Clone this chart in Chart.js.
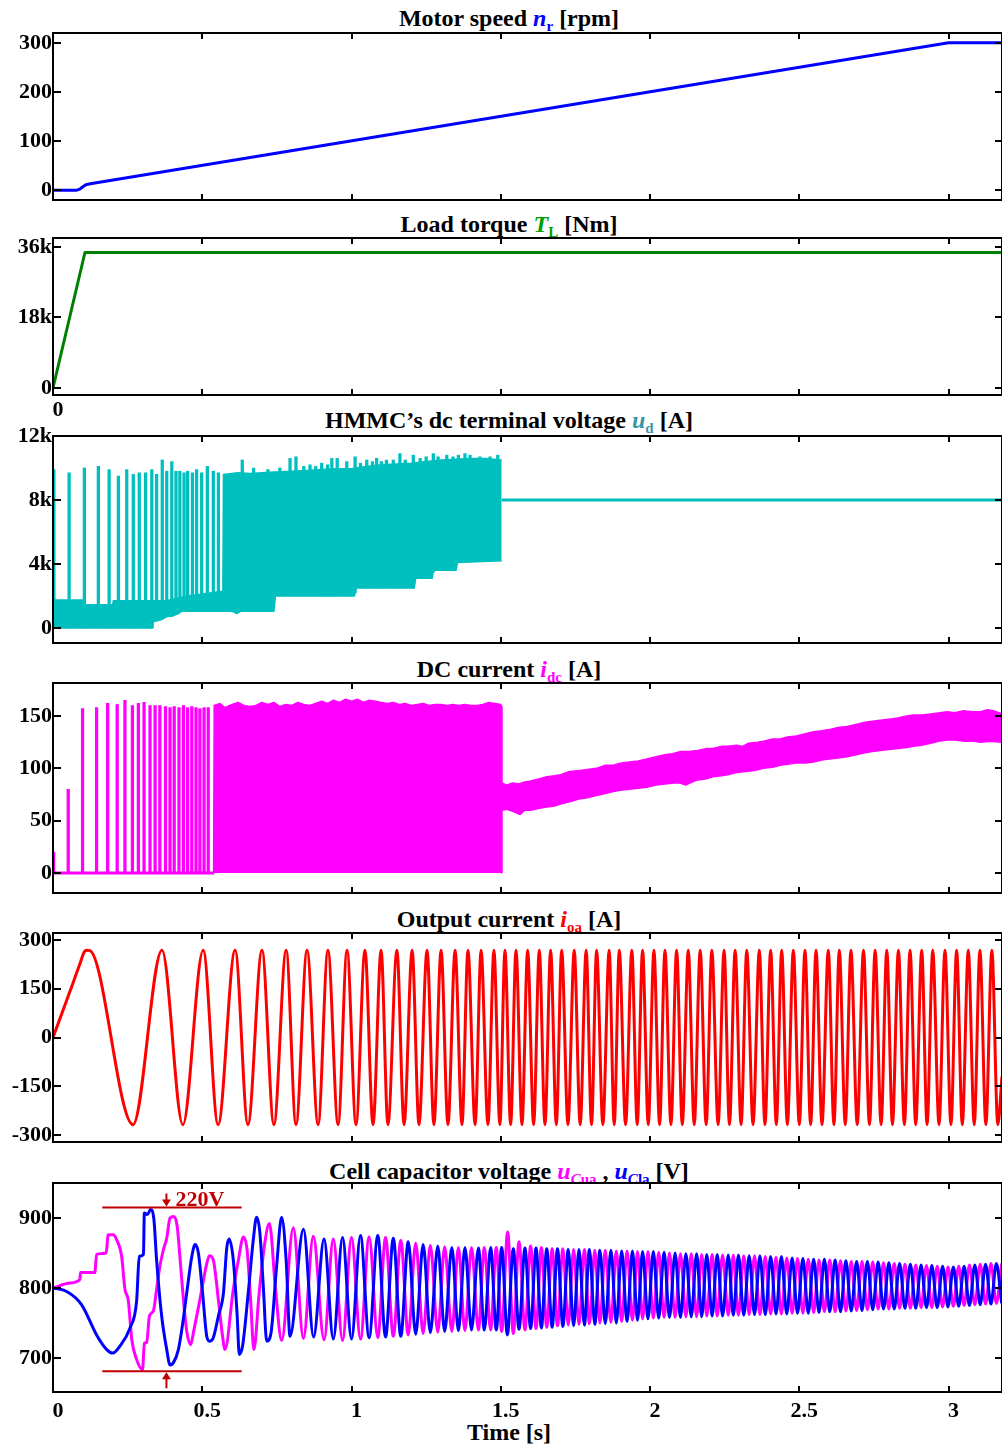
<!DOCTYPE html>
<html><head><meta charset="utf-8">
<script src="https://cdn.jsdelivr.net/npm/chart.js@4.4.1/dist/chart.umd.min.js"></script>
<style>
html,body{margin:0;padding:0;background:#fff;}
body{width:1002px;height:1448px;position:relative;overflow:hidden;font-family:"Liberation Serif","Times New Roman",serif;}
.t{position:absolute;left:0;width:1018px;text-align:center;font-weight:bold;font-size:24px;line-height:24px;white-space:nowrap;color:#000;}
.t i{font-style:italic;}
.s{font-size:15px;position:relative;top:5px;font-weight:bold;}
</style>
</head><body>
<div class="t" style="top:6px">Motor speed <i style="color:#0000ff">n</i><span class="s" style="color:#0000ff">r</span> [rpm]</div>
<div class="t" style="top:212px">Load torque <i style="color:#00a000">T</i><span class="s" style="color:#00a000">L</span> [Nm]</div>
<div class="t" style="top:408px">HMMC’s dc terminal voltage <i style="color:#3a96aa">u</i><span class="s" style="color:#3a96aa">d</span> [A]</div>
<div class="t" style="top:657px">DC current <i style="color:#ff00ff">i</i><span class="s" style="color:#ff00ff">dc</span> [A]</div>
<div class="t" style="top:907px">Output current <i style="color:#ff0000">i</i><span class="s" style="color:#ff0000">oa</span> [A]</div>
<div class="t" style="top:1159px">Cell capacitor voltage <i style="color:#ff00ff">u</i><span class="s" style="color:#ff00ff"><i>C</i>ua</span> , <i style="color:#0000ff">u</i><span class="s" style="color:#0000ff"><i>C</i>la</span> [V]</div>
<div class="t" style="top:1420px">Time [s]</div>
<script>
// ---------------- DATA ----------------
const xTickVals = [0, 0.5, 1, 1.5, 2, 2.5, 3];
const xTickLabels = ['0', '0.5', '1', '1.5', '2', '2.5', '3'];
const X_MAX = 3.179;

// Panel 1: motor speed [rpm]
const speedTicks = [0, 100, 200, 300];
const speedTickLabels = ['0', '100', '200', '300'];
const speedPts = [[0,0],[0.08,0],[0.09,2],[0.10,7],[0.11,11],[0.125,13],[3.0,300],[3.179,300]];

// Panel 2: load torque [Nm]
const torqueTicks = [0, 18000, 36000];
const torqueTickLabels = ['0', '18k', '36k'];
const torquePts = [[0,0],[0.107,34600],[3.179,34600]];

// Panel 3: dc terminal voltage
const udTicks = [0, 4000, 8000, 12000];
const udTickLabels = ['0', '4k', '8k', '12k'];
const udLowPts = [[0,0],[0.334,0],[0.336,400],[0.36,500],[0.38,700],[0.40,750],[0.42,900],[0.43,1050],[0.60,1050],[0.615,900],[0.63,1050],[0.74,1050],[0.745,2000],[1.01,2000],[1.015,2500],[1.21,2500],[1.215,3100],[1.27,3100],[1.275,3600],[1.35,3600],[1.355,4100],[1.503,4200]];
const udHighPts = [[0,1750],[0.10,1750],[0.102,1450],[0.20,1450],[0.202,1700],[0.38,1700],[0.45,2000],[0.569,2300],[0.571,9600],[0.62,9700],[0.66,9650],[0.70,9700],[0.74,9750],[0.80,9800],[0.85,9850],[0.90,9900],[0.95,9950],[1.00,9950],[1.05,10100],[1.10,10200],[1.15,10250],[1.20,10300],[1.25,10400],[1.30,10500],[1.35,10550],[1.40,10600],[1.45,10600],[1.503,10500]];
const udSpikeT = [0.003,0.054,0.105,0.152,0.188,0.219,0.247,0.269,0.289,0.31,0.331,0.347,0.366,0.381,0.398,0.412,0.425,0.439,0.451,0.467,0.481,0.498,0.517,0.537,0.554,0.634,0.672,0.72,0.76,0.794,0.814,0.84,0.861,0.88,0.90,0.92,0.934,0.952,0.984,1.012,1.03,1.051,1.07,1.084,1.1,1.117,1.14,1.162,1.18,1.207,1.23,1.25,1.274,1.29,1.319,1.34,1.358,1.38,1.397,1.43,1.464,1.49];
const udSpikeV = [9900,9700,10000,10100,9900,9500,9900,9600,9700,9700,9900,9600,10500,9800,10400,9800,9800,9700,9800,9700,9900,9700,10100,9800,9700,10500,10000,9900,10000,10600,10700,10100,10200,10100,10300,10200,10600,10600,10400,10700,10300,10500,10400,10600,10400,10500,10500,10900,10500,10800,10600,10700,10900,10700,10800,10700,10800,10900,10800,10700,10700,10800];
const udFlatPts = [[1.503,8000],[3.179,8000]];

// Panel 4: DC current [A]
const idcTicks = [0, 50, 100, 150];
const idcTickLabels = ['0', '50', '100', '150'];
const idcBasePts = [[0,0],[0.54,0]];
const idcSpikeT = [0.002,0.051,0.099,0.146,0.183,0.215,0.241,0.266,0.286,0.305,0.325,0.342,0.358,0.377,0.392,0.406,0.422,0.437,0.451,0.465,0.479,0.492,0.506,0.52];
const idcSpikeV = [20,80,157,158,162,161,165,160,162,163,160,160,160,159,158,159,158,160,158,159,158,157,158,158];
const idcDenseTopPts = [[0.538,0],[0.54,160],[0.56,162],[0.575,158],[0.6,161],[0.62,163],[0.64,160],[0.66,159],[0.68,160],[0.7,163],[0.72,161],[0.74,163],[0.76,159],[0.78,161],[0.8,160],[0.82,163],[0.84,161],[0.86,160],[0.88,162],[0.9,164],[0.92,162],[0.94,165],[0.96,163],[0.98,166],[1.0,164],[1.02,166],[1.04,163],[1.06,165],[1.08,164],[1.1,163],[1.12,162],[1.14,163],[1.16,161],[1.18,162],[1.2,160],[1.22,161],[1.24,162],[1.26,160],[1.28,161],[1.3,161],[1.32,160],[1.34,161],[1.36,160],[1.38,161],[1.4,160],[1.42,160],[1.44,161],[1.46,163],[1.48,162],[1.5,161],[1.503,159],[1.504,0]];
const idcPostHighPts = [[1.504,86],[1.52,84],[1.54,86],[1.56,85],[1.58,87],[1.6,88],[1.63,90],[1.654,92],[1.68,93],[1.7,94],[1.73,97],[1.765,98],[1.79,99],[1.82,100],[1.85,103],[1.877,103],[1.9,105],[1.93,106],[1.96,107],[1.989,109],[2.02,111],[2.05,113],[2.075,114],[2.1,116],[2.13,116],[2.16,117],[2.19,119],[2.21,119],[2.24,121],[2.26,121],[2.29,122],[2.31,121],[2.33,124],[2.36,125],[2.38,126],[2.41,128],[2.436,128],[2.46,130],[2.49,131],[2.52,133],[2.548,135],[2.575,136],[2.6,137],[2.63,139],[2.66,140],[2.69,142],[2.72,144],[2.745,145],[2.771,146],[2.8,147],[2.83,148],[2.86,150],[2.883,151],[2.91,151],[2.94,152],[2.97,153],[2.995,154],[3.02,153],[3.05,155],[3.08,154],[3.107,154],[3.13,156],[3.15,155],[3.179,152]];
const idcPostLowPts = [[1.504,60],[1.52,61],[1.54,59],[1.565,56],[1.58,60],[1.6,60],[1.63,62],[1.654,63],[1.68,64],[1.7,66],[1.73,68],[1.765,71],[1.79,72],[1.82,74],[1.85,76],[1.877,78],[1.9,79],[1.93,80],[1.96,81],[1.989,82],[2.02,84],[2.05,85],[2.08,86],[2.1,86],[2.12,84],[2.14,87],[2.16,89],[2.19,90],[2.21,92],[2.24,93],[2.26,94],[2.29,96],[2.32,97],[2.35,98],[2.38,100],[2.41,101],[2.436,103],[2.46,104],[2.49,105],[2.52,105],[2.548,106],[2.575,108],[2.6,109],[2.63,110],[2.66,111],[2.69,113],[2.72,115],[2.745,116],[2.771,117],[2.8,118],[2.83,119],[2.86,120],[2.883,121],[2.91,122],[2.94,124],[2.97,126],[2.995,127],[3.02,127],[3.05,126],[3.08,126],[3.107,125],[3.14,126],[3.179,125]];

// Panel 5: output current [A]
const ioaTicks = [-300, -150, 0, 150, 300];
const ioaTickLabels = ['-300', '-150', '0', '150', '300'];
const ioaPts = [[0,0],[0.03,75],[0.06,150],[0.09,226],[0.107,266],[0.116,268],[0.124,267],
[0.268,-268],[0.365,268],[0.435,-268],[0.503,268],[0.553,-268],[0.610,268],[0.653,-268],[0.700,268],[0.740,-268],[0.781,268],[0.814,-268],[0.851,268],[0.888,-268],[0.921,268],[0.955,-268],[0.985,268],[1.015,-268],[1.045,268],[1.072,-268],[1.099,268],[1.122,-268],[1.152,268],[1.176,-268],[1.203,268],[1.226,-268],[1.253,268],[1.276,-268],[1.300,268],[1.323,-268],[1.347,268],[1.370,-268],[1.390,268],[1.414,-268],[1.434,268],[1.457,-268],[1.477,268],[1.497,-268],[1.514,268],[1.533,-268],[1.551,268],[1.571,-268],[1.590,268],[1.610,-268],[1.629,268],[1.648,-268],[1.667,268],[1.686,-268],[1.704,268],[1.725,-268],[1.746,268],[1.766,-268],[1.786,268],[1.804,-268],[1.821,268],[1.842,-268],[1.863,268],[1.880,-268],[1.897,268],[1.918,-268],[1.939,268],[1.957,-268],[1.975,268],[1.994,-268],[2.013,268],[2.032,-268],[2.050,268],[2.070,-268],[2.089,268],[2.108,-268],[2.128,268],[2.148,-268],[2.168,268],[2.188,-268],[2.207,268],[2.228,-268],[2.248,268],[2.266,-268],[2.285,268],[2.305,-268],[2.324,268],[2.345,-268],[2.366,268],[2.385,-268],[2.404,268],[2.423,-268],[2.441,268],[2.460,-268],[2.480,268],[2.500,-268],[2.519,268],[2.538,-268],[2.556,268],[2.576,-268],[2.597,268],[2.616,-268],[2.634,268],[2.654,-268],[2.673,268],[2.694,-268],[2.715,268],[2.735,-268],[2.754,268],[2.774,-268],[2.793,268],[2.812,-268],[2.832,268],[2.852,-268],[2.871,268],[2.890,-268],[2.910,268],[2.928,-268],[2.947,268],[2.968,-268],[2.988,268],[3.008,-268],[3.027,268],[3.046,-268],[3.066,268],[3.086,-268],[3.105,268],[3.125,-268],[3.145,268],[3.165,-268],[3.179,-120]];

// Panel 6: cell capacitor voltages [V]
const ucTicks = [700, 800, 900];
const ucTickLabels = ['700', '800', '900'];
const uCuaPts = [[0,800],[0.057,807],[0.09,812],[0.092,822],[0.14,822],[0.146,848],[0.178,850],[0.185,876],[0.202,876],[0.213,869],[0.23,845],[0.241,798],[0.252,783],[0.264,726],[0.28,698],[0.3,683],[0.306,721],[0.314,722],[0.323,760],[0.336,767],[0.347,798],[0.358,831],[0.37,855],[0.381,871],[0.392,900],[0.405,902],[0.416,888],[0.425,845],[0.437,783],[0.448,738],[0.461,719],[0.472,740],[0.492,783],[0.513,831],[0.524,846],[0.537,840],[0.554,783],[0.568,731],[0.576,712],[0.604,798],[0.621,840],[0.638,873],[0.65,855],[0.662,783],[0.673,712],[0.69,790],[0.708,860],[0.725,892],[0.745,800],[0.766,725],
[0.805,886],[0.839,728],[0.872,874],[0.908,726],[0.939,870],[0.97,725],[1.0,872],[1.03,727],[1.059,873],[1.088,729],[1.114,872],[1.14,731],[1.165,868],[1.19,733],[1.215,864],[1.24,735],[1.264,861],[1.289,737],[1.312,859],[1.336,738],[1.358,858],[1.38,739],[1.402,858],[1.425,740],[1.445,858],[1.466,740],[1.485,858],[1.503,738],[1.523,880],[1.542,735],[1.561,866],[1.581,740],[1.6,860],[1.618,742],[1.636,858],[1.654,744],[1.672,856],[1.69,746],[1.708,856],[1.726,747],[1.744,855],[1.762,748],[1.78,855],[1.797,749],[1.815,854],[1.832,750],[1.85,854],[1.869,751],[1.887,853],[1.905,752],[1.923,853],[1.941,754],[1.958,852],[1.975,756],[1.993,852],[2.011,757],[2.029,851],[2.047,758],[2.065,850],[2.084,758],[2.102,849],[2.12,759],[2.138,849],[2.156,759],[2.173,848],[2.19,760],[2.208,848],[2.225,760],[2.243,847],[2.262,761],[2.279,847],[2.296,761],[2.314,846],[2.332,762],[2.35,846],[2.368,762],[2.386,845],[2.404,763],[2.422,844],[2.44,763],[2.458,843],[2.476,764],[2.494,842],[2.512,764],[2.53,841],[2.548,765],[2.566,840],[2.584,766],[2.602,840],[2.62,766],[2.638,839],[2.656,767],[2.674,838],[2.692,768],[2.71,838],[2.728,769],[2.746,837],[2.764,770],[2.782,836],[2.8,770],[2.818,835],[2.836,771],[2.854,834],[2.872,771],[2.89,833],[2.908,772],[2.926,832],[2.944,772],[2.962,831],[2.98,773],[2.998,830],[3.016,774],[3.034,831],[3.052,775],[3.07,833],[3.088,776],[3.106,834],[3.124,777],[3.142,835],[3.16,778],[3.178,835]];
const uClaPts = [[0,800],[0.046,795],[0.096,776],[0.146,733],[0.18,712],[0.2,707],[0.224,717],[0.258,743],[0.28,781],[0.289,845],[0.303,848],[0.306,907],[0.316,905],[0.327,912],[0.338,898],[0.347,840],[0.364,760],[0.381,712],[0.392,690],[0.403,693],[0.42,712],[0.434,748],[0.448,793],[0.465,845],[0.476,862],[0.487,850],[0.501,793],[0.515,731],[0.524,724],[0.537,729],[0.554,760],[0.571,793],[0.582,857],[0.59,870],[0.604,840],[0.617,760],[0.624,705],[0.635,717],[0.654,793],[0.671,869],[0.682,901],[0.693,879],[0.705,798],[0.716,724],[0.73,735],[0.749,831],[0.766,901],[0.781,840],[0.794,731],
[0.839,884],[0.873,730],[0.908,870],[0.939,727],[0.97,872],[1.0,727],[1.03,875],[1.059,729],[1.088,875],[1.114,730],[1.14,871],[1.165,731],[1.19,866],[1.215,734],[1.24,862],[1.264,736],[1.289,860],[1.312,738],[1.336,858],[1.358,739],[1.38,858],[1.402,740],[1.425,857],[1.445,740],[1.466,858],[1.485,740],[1.503,858],[1.522,733],[1.542,856],[1.561,741],[1.581,857],[1.6,742],[1.618,857],[1.636,743],[1.654,856],[1.672,744],[1.69,856],[1.708,745],[1.726,855],[1.744,746],[1.762,855],[1.78,747],[1.797,855],[1.815,748],[1.832,854],[1.85,749],[1.869,854],[1.887,750],[1.905,853],[1.923,752],[1.941,853],[1.958,754],[1.975,852],[1.993,756],[2.011,852],[2.029,757],[2.047,851],[2.065,758],[2.084,850],[2.102,758],[2.12,849],[2.138,759],[2.156,849],[2.173,759],[2.19,848],[2.208,760],[2.225,848],[2.243,760],[2.262,847],[2.279,761],[2.296,847],[2.314,761],[2.332,846],[2.35,762],[2.368,846],[2.386,762],[2.404,845],[2.422,763],[2.44,845],[2.458,763],[2.476,843],[2.494,764],[2.512,842],[2.53,764],[2.548,841],[2.566,765],[2.584,841],[2.602,766],[2.62,840],[2.638,766],[2.656,839],[2.674,767],[2.692,838],[2.71,768],[2.728,838],[2.746,769],[2.764,837],[2.782,770],[2.8,836],[2.818,770],[2.836,835],[2.854,771],[2.872,834],[2.89,771],[2.908,833],[2.926,772],[2.944,832],[2.962,772],[2.98,831],[2.998,773],[3.016,830],[3.034,774],[3.052,831],[3.07,775],[3.088,833],[3.106,776],[3.124,834],[3.142,777],[3.16,835],[3.178,778]];
const annotLevels = [915, 681];
const annotSpan = [0.165, 0.632];
const annotArrowT = 0.38;
const annotLabel = '220V';

// ---------------- RENDERING ----------------
const FONT_FAMILY = '"Liberation Serif", "Times New Roman", serif';
const TICK_FONT = {family: FONT_FAMILY, size: 22, weight: 'bold'};
const toXY = pts => pts.map(p => ({x: p[0], y: p[1]}));
function lerpAt(pts, t) {
  for (let i = 1; i < pts.length; i++) {
    if (t <= pts[i][0]) {
      const a = pts[i-1], b = pts[i];
      const f = b[0] === a[0] ? 0 : (t - a[0]) / (b[0] - a[0]);
      return a[1] + f * (b[1] - a[1]);
    }
  }
  return pts[pts.length-1][1];
}

const framePlugin = {
  id: 'frame',
  afterDraw(chart) {
    const {ctx, chartArea: a, scales: {x, y}} = chart;
    ctx.save();
    ctx.strokeStyle = '#000';
    ctx.lineWidth = 2;
    ctx.lineCap = 'butt';
    ctx.beginPath();
    ctx.moveTo(a.left, a.top); ctx.lineTo(a.right, a.top);
    ctx.moveTo(a.left, a.bottom); ctx.lineTo(a.right, a.bottom);
    ctx.moveTo(a.left, a.top - 1); ctx.lineTo(a.left, a.bottom + 1);
    ctx.moveTo(a.right, a.top - 1); ctx.lineTo(a.right, a.bottom + 1);
    x.ticks.forEach(tk => {
      const px = Math.round(x.getPixelForValue(tk.value));
      ctx.moveTo(px, a.top); ctx.lineTo(px, a.top + 6);
      ctx.moveTo(px, a.bottom); ctx.lineTo(px, a.bottom - 6);
    });
    y.ticks.forEach(tk => {
      const py = Math.round(y.getPixelForValue(tk.value));
      ctx.moveTo(a.left, py); ctx.lineTo(a.left + 8, py);
      ctx.moveTo(a.right, py); ctx.lineTo(a.right - 7, py);
    });
    ctx.stroke();
    ctx.restore();
  }
};

const annotPlugin = {
  id: 'annot',
  afterDatasetsDraw(chart) {
    const {ctx, scales: {x, y}} = chart;
    const col = '#c00000';
    ctx.save();
    ctx.strokeStyle = col; ctx.fillStyle = col; ctx.lineWidth = 2;
    const x0 = x.getPixelForValue(annotSpan[0]), x1 = x.getPixelForValue(annotSpan[1]);
    const yHi = y.getPixelForValue(annotLevels[0]), yLo = y.getPixelForValue(annotLevels[1]);
    ctx.beginPath();
    ctx.moveTo(x0, yHi); ctx.lineTo(x1, yHi);
    ctx.moveTo(x0, yLo); ctx.lineTo(x1, yLo);
    const ax = x.getPixelForValue(annotArrowT);
    ctx.moveTo(ax, yHi - 14); ctx.lineTo(ax, yHi - 5);
    ctx.moveTo(ax, yLo + 17); ctx.lineTo(ax, yLo + 5);
    ctx.stroke();
    ctx.beginPath();
    ctx.moveTo(ax - 4.5, yHi - 8); ctx.lineTo(ax + 4.5, yHi - 8); ctx.lineTo(ax, yHi - 1); ctx.closePath();
    ctx.moveTo(ax - 4.5, yLo + 8); ctx.lineTo(ax + 4.5, yLo + 8); ctx.lineTo(ax, yLo + 1); ctx.closePath();
    ctx.fill();
    ctx.font = 'bold 22px ' + FONT_FAMILY;
    ctx.textBaseline = 'alphabetic';
    ctx.textAlign = 'left';
    ctx.fillText(annotLabel, ax + 9, yHi - 1);
    ctx.restore();
  }
};

function panel(cfg) {
  const PT = 16, PB = 16;
  const xH = cfg.xAxisH || 0;
  const h = cfg.bottom - cfg.top + PT + PB + xH;
  const c = document.createElement('canvas');
  c.width = 1002; c.height = h;
  c.style.cssText = 'position:absolute;left:0;top:' + (cfg.top - PT) + 'px;width:1002px;height:' + h + 'px;';
  document.body.appendChild(c);
  return new Chart(c, {
    type: 'line',
    data: {datasets: cfg.datasets},
    plugins: [framePlugin].concat(cfg.plugins || []),
    options: {
      responsive: false, animation: false, events: [], devicePixelRatio: 1,
      layout: {padding: {top: PT, bottom: PB, left: 0, right: 0}},
      elements: {point: {radius: 0, hoverRadius: 0}, line: {borderCapStyle: 'butt', borderJoinStyle: 'round'}},
      plugins: {legend: {display: false}, tooltip: {enabled: false}},
      scales: {
        x: {
          type: 'linear', min: 0, max: X_MAX, offset: false, bounds: 'data',
          grid: {display: false, drawTicks: false}, border: {display: false},
          afterBuildTicks: s => { s.ticks = xTickVals.map(v => ({value: v})); },
          ticks: {display: !!cfg.xLab, autoSkip: false, maxRotation: 0, padding: cfg.xPad || 6, labelOffset: 5, color: '#000', font: TICK_FONT,
                  callback: (v, i) => cfg.xLab ? cfg.xLab[i] : ''},
          afterFit: s => { s.height = xH; }
        },
        y: {
          type: 'linear', min: cfg.ymin, max: cfg.ymax, bounds: 'data',
          grid: {display: false, drawTicks: false}, border: {display: false},
          afterBuildTicks: s => { s.ticks = cfg.yt.map(v => ({value: v})); },
          ticks: {autoSkip: false, padding: 1, color: '#000', font: TICK_FONT, callback: (v, i) => cfg.yl[i]},
          afterFit: s => { s.width = 53; }
        }
      }
    }
  });
}

const line = (pts, color, w, extra) => Object.assign({type: 'line', data: toXY(pts), borderColor: color, borderWidth: w, pointRadius: 0, fill: false, tension: 0}, extra || {});
const spikes = (ts, vs, lowPts, color) => ({
  type: 'bar',
  data: ts.map((t, i) => ({x: t, y: [lowPts ? lerpAt(lowPts, t) : 0, vs[i]]})),
  backgroundColor: color, borderWidth: 0, barThickness: 2.6, grouped: true
});

const CYAN = '#00bfbf', MAG = '#ff00ff', BLUE = '#0000ff', RED = '#ff0000', GREEN = '#008000';

panel({top: 33, bottom: 200, ymin: -20, ymax: 320, yt: speedTicks, yl: speedTickLabels,
  datasets: [line(speedPts, BLUE, 3)]});

panel({top: 238, bottom: 395, ymin: -1790, ymax: 38300, yt: torqueTicks, yl: torqueTickLabels,
  xLab: ['0', '', '', '', '', '', ''], xAxisH: 24, xPad: 2,
  datasets: [line(torquePts, GREEN, 3)]});

panel({top: 436, bottom: 643, ymin: -940, ymax: 12000, yt: udTicks, yl: udTickLabels,
  datasets: [
    line(udLowPts, CYAN, 1.5),
    line(udHighPts, CYAN, 1.5, {fill: '-1', backgroundColor: CYAN}),
    spikes(udSpikeT, udSpikeV, udLowPts, CYAN),
    line(udFlatPts, CYAN, 3)
  ]});

panel({top: 683, bottom: 893, ymin: -19, ymax: 181.5, yt: idcTicks, yl: idcTickLabels,
  datasets: [
    line(idcBasePts, MAG, 3),
    spikes(idcSpikeT, idcSpikeV, null, MAG),
    line(idcDenseTopPts, MAG, 1.5, {fill: 'origin', backgroundColor: MAG}),
    line(idcPostLowPts, MAG, 1.5),
    line(idcPostHighPts, MAG, 1.5, {fill: '-1', backgroundColor: MAG})
  ]});

panel({top: 933, bottom: 1142, ymin: -321.4, ymax: 321.4, yt: ioaTicks, yl: ioaTickLabels,
  datasets: [line(ioaPts, RED, 3, {cubicInterpolationMode: 'monotone'})]});

panel({top: 1183, bottom: 1392, ymin: 651.4, ymax: 950, yt: ucTicks, yl: ucTickLabels,
  xLab: xTickLabels, xAxisH: 34, xPad: 6, plugins: [annotPlugin],
  datasets: [
    line(uClaPts, BLUE, 3, {cubicInterpolationMode: 'monotone'}),
    line(uCuaPts, MAG, 3, {cubicInterpolationMode: 'monotone'})
  ]});
</script>
</body></html>
